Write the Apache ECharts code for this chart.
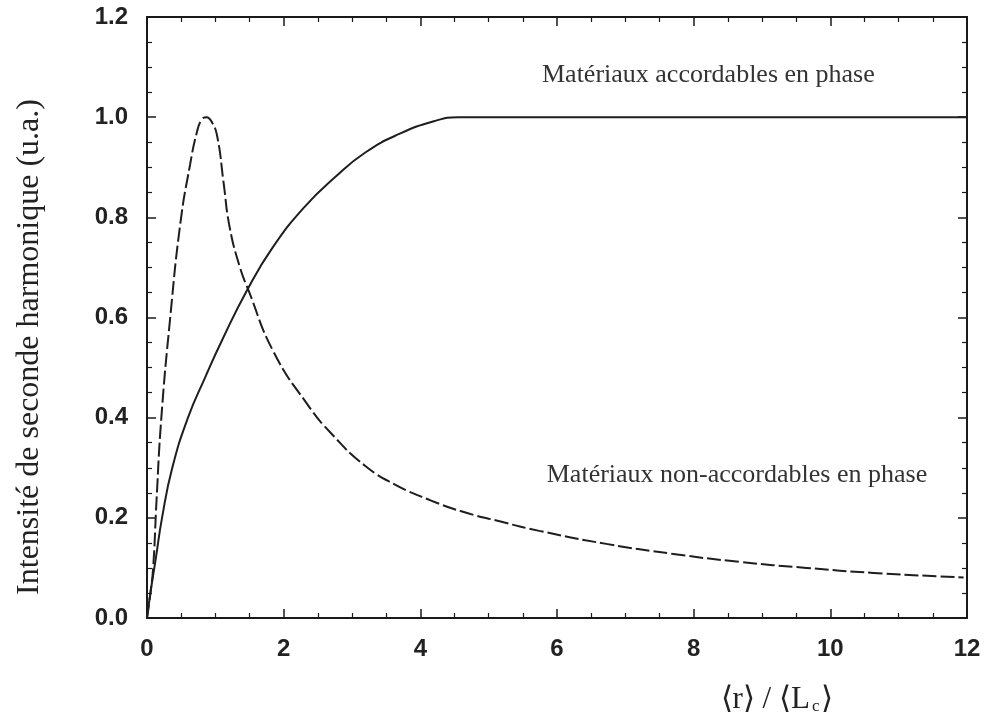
<!DOCTYPE html>
<html>
<head>
<meta charset="utf-8">
<script src="https://cdn.jsdelivr.net/npm/echarts@6/dist/echarts.min.js"></script>
<style>
html,body{margin:0;padding:0;background:#fff;}
#c{width:994px;height:722px;}
</style>
</head>
<body>
<div id="c"></div>
<script>
// Data
var accordX = [0, 0.05, 0.13, 0.22, 0.37, 0.6, 0.85, 1.1, 1.47, 1.84, 2.3, 2.75, 3.2, 3.7, 4.2, 4.55, 5, 6, 8, 10, 12];
var accordY = [0, 0.05, 0.12, 0.20, 0.30, 0.40, 0.48, 0.555, 0.656, 0.74, 0.82, 0.88, 0.93, 0.967, 0.992, 1.0, 1.0, 1.0, 1.0, 1.0, 1.0];

var nonAccordX = [0, 0.05, 0.09, 0.14, 0.21, 0.34, 0.49, 0.63, 0.73, 0.8, 0.87, 0.95, 1.03, 1.12, 1.21, 1.36, 1.48, 1.85, 2.34, 2.72, 3.2, 3.65, 4.13, 4.6, 5.16, 5.74, 6.72, 7.7, 8.67, 9.65, 10.63, 11.95];
var nonAccordY = [0, 0.05, 0.10, 0.236, 0.40, 0.60, 0.79, 0.905, 0.97, 0.995, 1.0, 0.99, 0.96, 0.87, 0.78, 0.70, 0.656, 0.532, 0.428, 0.365, 0.303, 0.265, 0.236, 0.213, 0.193, 0.174, 0.148, 0.128, 0.112, 0.100, 0.090, 0.081];

var xTicks = [0, 2, 4, 6, 8, 10, 12];
var yTicks = [0.0, 0.2, 0.4, 0.6, 0.8, 1.0, 1.2];

var yTitle = 'Intensité de seconde harmonique (u.a.)';
var label1 = 'Matériaux accordables en phase';
var label2 = 'Matériaux non-accordables en phase';

function zip(xs, ys){ return xs.map(function(x,i){ return [x, ys[i]]; }); }

var chart = echarts.init(document.getElementById('c'), null, {renderer:'canvas'});
var axisColor = '#1a1a1a';
var tickFont = {fontFamily:'Liberation Sans, Arial, sans-serif', fontWeight:'bold', fontSize:24, color:'#222'};

function xAx(pos, showLabel){
  return {
    type:'value', position:pos, min:0, max:12, interval:2,
    axisLine:{show:true, onZero:false, lineStyle:{color:axisColor, width:2}},
    axisTick:{show:true, inside:true, length:9, lineStyle:{color:axisColor, width:1.5}},
    minorTick:{show:true, splitNumber:4, length:5, lineStyle:{color:axisColor, width:1.2}},
    splitLine:{show:false},
    axisLabel:Object.assign({show:showLabel, margin:19, formatter:function(v){ return xTicks.indexOf(v)>=0 ? String(v) : ''; }}, tickFont)
  };
}
function yAx(pos, showLabel){
  return {
    type:'value', position:pos, min:0, max:1.2, interval:0.2,
    axisLine:{show:true, onZero:false, lineStyle:{color:axisColor, width:2}},
    axisTick:{show:true, inside:true, length:9, lineStyle:{color:axisColor, width:1.5}},
    minorTick:{show:true, splitNumber:4, length:5, lineStyle:{color:axisColor, width:1.2}},
    splitLine:{show:false},
    axisLabel:Object.assign({show:showLabel, margin:19, formatter:function(v){ return v.toFixed(1); }}, tickFont)
  };
}

var option = {
  animation:false,
  backgroundColor:'#fff',
  grid:{left:147, right:27, top:17, bottom:104},
  xAxis:[xAx('bottom', true), xAx('top', false)],
  yAxis:[yAx('left', true), yAx('right', false)],
  series:[
    {
      name:label1, type:'line', xAxisIndex:0, yAxisIndex:0,
      data:zip(accordX, accordY), showSymbol:false, smooth:0.5,
      lineStyle:{color:'#1e1e1e', width:2, type:'solid'}
    },
    {
      name:label2, type:'line', xAxisIndex:0, yAxisIndex:0,
      data:zip(nonAccordX, nonAccordY), showSymbol:false, smooth:0.5,
      lineStyle:{color:'#1e1e1e', width:2, type:[14,4]}
    }
  ]
};
chart.setOption(option);

// Annotations placed in data coordinates
var p1 = chart.convertToPixel({gridIndex:0}, [10.65, 1.084]);
var p2 = chart.convertToPixel({gridIndex:0}, [5.85, 0.286]);
var serif = 'Liberation Serif, Times New Roman, serif';
chart.setOption({
  graphic:[
    {type:'text', x:p1[0], y:p1[1], style:{text:label1, font:'26px ' + serif, fill:'#333', textAlign:'right', textVerticalAlign:'middle'}},
    {type:'text', x:p2[0], y:p2[1], style:{text:label2, font:'26px ' + serif, fill:'#333', textAlign:'left', textVerticalAlign:'middle'}},
    {type:'text', x:30, y:347, rotation:Math.PI/2, style:{text:yTitle, font:'32px ' + serif, fill:'#222', textAlign:'center', textVerticalAlign:'middle'}},
    {type:'text', x:777, y:700, style:{
      text:'{a|⟨r⟩ / ⟨L}{s|c}{a|⟩}',
      textAlign:'center', textVerticalAlign:'middle',
      rich:{
        a:{fontFamily:serif, fontSize:31, fill:'#222', color:'#222'},
        s:{fontFamily:serif, fontSize:17, fill:'#222', color:'#222', verticalAlign:'bottom', padding:[12,2,0,2]}
      }
    }}
  ]
});
</script>
</body>
</html>
